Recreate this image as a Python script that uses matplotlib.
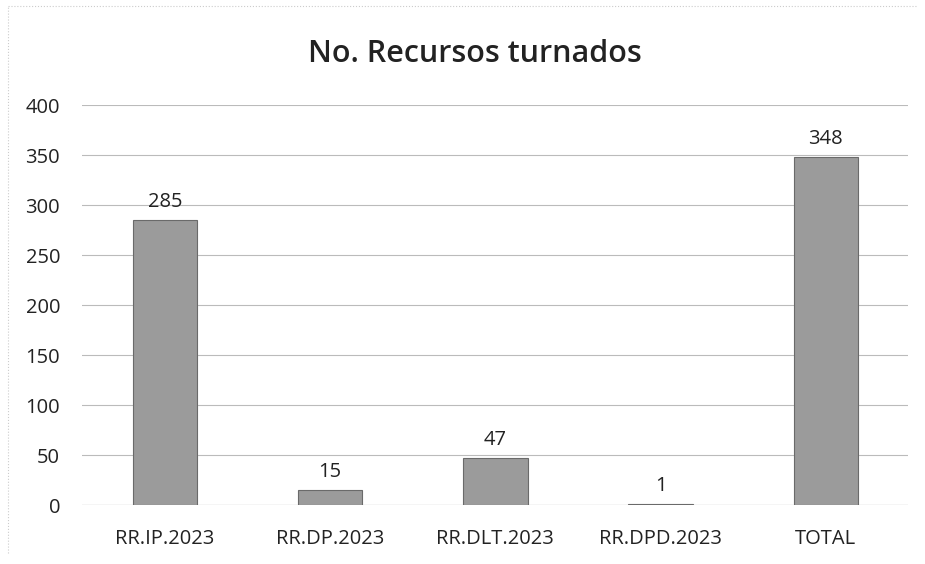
import matplotlib.pyplot as plt
import numpy as np

# data
categories = ['RR.IP.2023', 'RR.DP.2023', 'RR.DLT.2023', 'RR.DPD.2023', 'TOTAL']
values = [285, 15, 47, 1, 348]
yticks = [0, 50, 100, 150, 200, 250, 300, 350, 400]

plt.rcParams['font.family'] = ['Open Sans', 'DejaVu Sans']

fig = plt.figure(figsize=(9.25, 5.64), dpi=100)
ax = fig.add_axes([0.089, 0.1046, 0.893, 0.7092])

x = np.arange(len(categories))
bars = ax.bar(x, values, width=0.39, color='#9b9b9b', edgecolor='#6a6a6a', linewidth=0.8, zorder=3)

for xi, v in zip(x, values):
    ax.text(xi, v + 8, str(v), ha='center', va='bottom', fontsize=14.5, color='#222222')

ax.set_xlim(-0.5, len(categories) - 0.5)
ax.set_ylim(0, 400)
ax.set_yticks(yticks)
ax.set_xticks(x)
ax.set_xticklabels(categories, fontsize=14.5, color='#222222')
ax.tick_params(axis='y', labelsize=14.5, colors='#222222', length=0, pad=16)
ax.tick_params(axis='x', length=0, pad=17)
ax.grid(axis='y', color='#bbbbbb', linewidth=0.8, zorder=0)
for s in ax.spines.values():
    s.set_visible(False)
ax.axhline(0, color='#999999', linewidth=0.8, zorder=2)

fig.text(0.513, 0.904, 'No. Recursos turnados', ha='center', va='center',
         fontsize=22, fontweight='semibold', color='#222222')

# faint outer frame of the chart
fig.add_artist(plt.Line2D([0.009, 0.009], [0.02, 0.99], color='#cccccc', linewidth=0.8, linestyle=':'))
fig.add_artist(plt.Line2D([0.009, 0.99], [0.99, 0.99], color='#cccccc', linewidth=0.8, linestyle=':'))

fig.savefig('out.png', dpi=100)
